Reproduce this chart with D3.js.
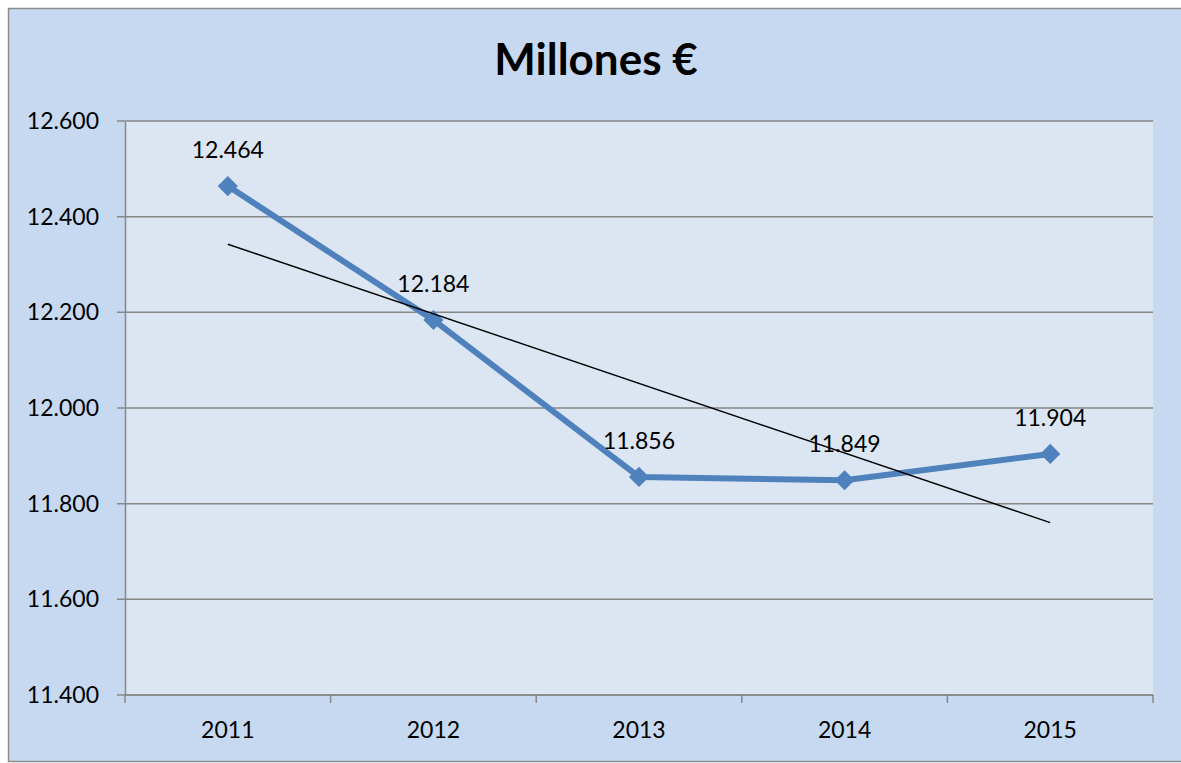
<!DOCTYPE html>
<html>
<head>
<meta charset="utf-8">
<script src="https://cdn.jsdelivr.net/npm/d3@7"></script>
<style>
  body { margin: 0; background: #fff; overflow: hidden; }
  svg text { font-family: Lato, "Open Sans", sans-serif; fill: #000; }
</style>
</head>
<body>
<svg id="chart" width="1181" height="763"></svg>
<script>
// chart data
const years = ["2011", "2012", "2013", "2014", "2015"];
const values = [12464, 12184, 11856, 11849, 11904];
const yTicks = [11400, 11600, 11800, 12000, 12200, 12400, 12600];
const title = "Millones €";

const svg = d3.select('#chart');
const plot = { left: 125, top: 121, right: 1153, bottom: 695 };

// format with a dot as thousands separator
const fmt = d3.formatLocale({ decimal: ',', thousands: '.', grouping: [3], currency: ['', '€'] })
  .format(',.0f');

// background of chart area
svg.append('rect')
  .attr('x', 8.5).attr('y', 8.5)
  .attr('width', 1190).attr('height', 753)
  .attr('fill', '#c6d9f1')
  .attr('stroke', '#8c8c8c')
  .attr('stroke-width', 1.5);

svg.append('text')
  .attr('x', 596).attr('y', 75)
  .attr('text-anchor', 'middle')
  .attr('font-size', 44)
  .attr('font-weight', 'bold')
  .text(title);

// scales
let x = d3.scaleBand()
  .domain(years)
  .range([plot.left, plot.right]);

let y = d3.scaleLinear()
  .domain([d3.min(yTicks), d3.max(yTicks)])
  .range([plot.bottom, plot.top]);

// plot area
svg.append('rect')
  .attr('x', plot.left).attr('y', plot.top)
  .attr('width', plot.right - plot.left)
  .attr('height', plot.bottom - plot.top)
  .attr('fill', '#dce6f2');

// gridlines
svg.append('g')
  .selectAll('line')
  .data(yTicks)
  .enter()
  .append('line')
  .attr('x1', plot.left - 8)
  .attr('x2', plot.right)
  .attr('y1', d => y(d))
  .attr('y2', d => y(d))
  .attr('stroke', '#878787')
  .attr('stroke-width', 1.5);

// y axis
let yAxis = d3.axisLeft(y)
  .tickValues(yTicks)
  .tickSize(0)
  .tickPadding(26)
  .tickFormat(fmt);

svg.append('g')
  .attr('transform', `translate(${plot.left},0)`)
  .call(yAxis)
  .call(g => g.select('.domain').attr('stroke', '#878787').attr('stroke-width', 1.5))
  .selectAll('text')
  .attr('font-size', 23)
  .attr('font-family', 'Lato, sans-serif')
  .attr('fill', '#000');

// x axis with ticks on category boundaries
let bounds = years.map(d => x(d)).concat([plot.right]);
let xg = svg.append('g');
xg.append('line')
  .attr('x1', plot.left).attr('x2', plot.right)
  .attr('y1', plot.bottom).attr('y2', plot.bottom)
  .attr('stroke', '#878787').attr('stroke-width', 1.5);
xg.selectAll('.xtick')
  .data(bounds)
  .enter()
  .append('line')
  .attr('class', 'xtick')
  .attr('x1', d => d).attr('x2', d => d)
  .attr('y1', plot.bottom).attr('y2', plot.bottom + 8)
  .attr('stroke', '#878787').attr('stroke-width', 1.5);
xg.selectAll('.xlabel')
  .data(years)
  .enter()
  .append('text')
  .attr('class', 'xlabel')
  .attr('x', d => x(d) + x.bandwidth() / 2)
  .attr('y', 738)
  .attr('text-anchor', 'middle')
  .attr('font-size', 23)
  .text(d => d);

// series line
let pts = years.map((d, i) => ({ year: d, value: values[i] }));
let cx = d => x(d.year) + x.bandwidth() / 2;

svg.append('path')
  .datum(pts)
  .attr('fill', 'none')
  .attr('stroke', '#4f81bd')
  .attr('stroke-width', 6)
  .attr('stroke-linejoin', 'round')
  .attr('d', d3.line().x(cx).y(d => y(d.value)));

svg.append('g')
  .selectAll('path')
  .data(pts)
  .enter()
  .append('path')
  .attr('transform', d => `translate(${cx(d)},${y(d.value)})`)
  .attr('d', d3.symbol(d3.symbolDiamond2, 260))
  .attr('fill', '#4f81bd');

// data labels
svg.append('g')
  .selectAll('text')
  .data(pts)
  .enter()
  .append('text')
  .attr('x', cx)
  .attr('y', d => y(d.value) - 28)
  .attr('text-anchor', 'middle')
  .attr('font-size', 23)
  .text(d => fmt(d.value));

// linear trendline (least squares over the series)
let n = values.length;
let mx = d3.mean(values, (d, i) => i + 1);
let my = d3.mean(values);
let slope = d3.sum(values, (d, i) => (i + 1 - mx) * (d - my)) /
  d3.sum(values, (d, i) => (i + 1 - mx) * (i + 1 - mx));
let trend = [pts[0], pts[n - 1]].map(d => {
  let k = years.indexOf(d.year) + 1;
  return { year: d.year, value: my + slope * (k - mx) };
});

svg.append('path')
  .datum(trend)
  .attr('fill', 'none')
  .attr('stroke', '#000')
  .attr('stroke-width', 1.5)
  .attr('d', d3.line().x(cx).y(d => y(d.value)));
</script>
</body>
</html>
